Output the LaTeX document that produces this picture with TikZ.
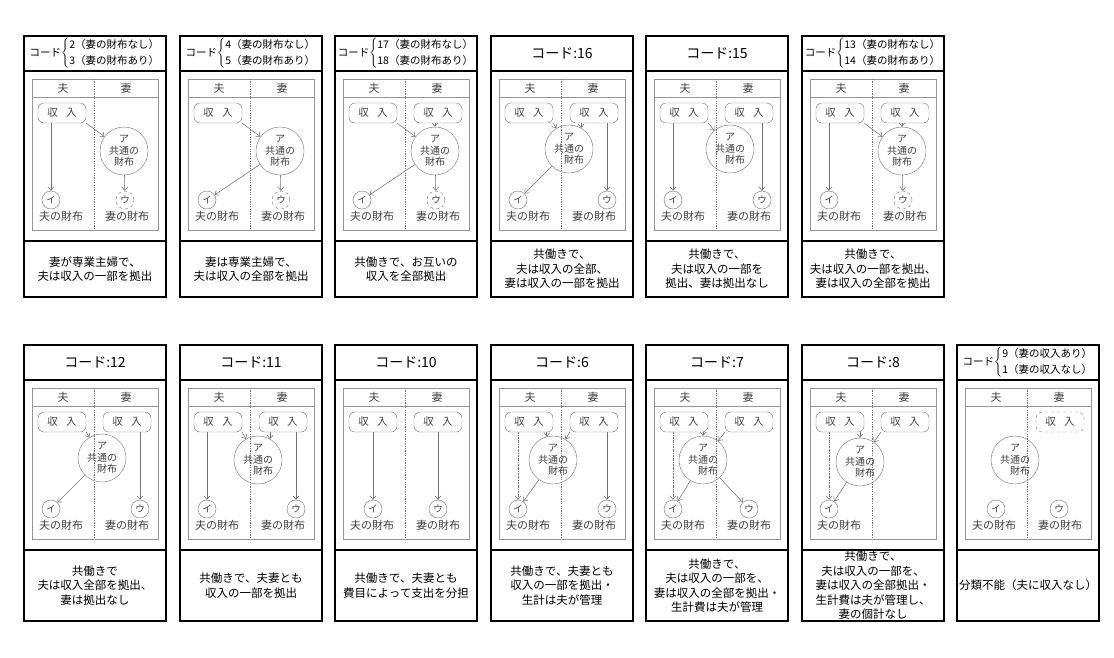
\documentclass[tikz,border=0pt]{standalone}
\usepackage{fontspec}
\setmainfont{Noto Sans CJK JP}
\definecolor{kkline}{RGB}{115,115,115}
\definecolor{kktext}{RGB}{65,65,65}
\definecolor{kkframe}{RGB}{150,150,150}
\usetikzlibrary{arrows.meta}

% one panel: name, left, top, height, code header, description, wife's wallet label
\newcommand{\kakeibox}[7]{%
  \draw[panel] (#2,#3) rectangle ++(142,#4);
  \draw[panel] (#2,#3+35) -- ++(142,0);
  \draw[panel] (#2,#3+205) -- ++(142,0);
  \node[code] (#1code) at (#2+71,#3+17.5) {#5};
  \node[desc] (#1desc) at ({#2+71},{#3+205+(#4-205)/2}) {#6};
  \draw[grid] (#2+8,#3+43) rectangle ++(126,151);
  \draw[grid] (#2+8,#3+61) -- ++(126,0);
  \draw[divider] (#2+70,#3+43) -- ++(0,151);
  \node[who] (#1hus) at (#2+39,#3+52) {夫};
  \node[who] (#1wif) at (#2+102,#3+52) {妻};
  \node[lbl] (#1il) at (#2+37,#3+180) {夫の財布};
  \node[lbl] (#1ul) at (#2+103,#3+180) {#7};
}
\newcommand{\twocodes}[2]{{\fontsize{10.5}{16}\selectfont コード$\left\{\begin{tabular}{@{}l@{}}#1\\#2\end{tabular}\right.$}}

\begin{document}
\begin{tikzpicture}[x=1pt,y=-1pt,
  panel/.style={line width=1.6pt},
  grid/.style={draw=kkframe,line width=0.6pt},
  divider/.style={draw=kkline,line width=0.6pt,dash pattern=on 1.2pt off 1.2pt},
  code/.style={font=\fontsize{14}{16}\selectfont},
  desc/.style={align=center,font=\fontsize{11.5}{14.5}\selectfont},
  who/.style={text=kktext,font=\fontsize{11}{13}\selectfont},
  lbl/.style={text=kktext,font=\fontsize{11}{13}\selectfont},
  income/.style={draw=kkline,rounded corners=6pt,minimum width=48pt,minimum height=20pt,inner sep=0pt,text=kktext,font=\fontsize{10.5}{12}\selectfont},
  pot/.style={circle,draw=kkline,minimum size=48pt,inner sep=0pt,align=center,text=kktext,font=\fontsize{10}{11.5}\selectfont},
  wallet/.style={circle,draw=kkline,minimum size=18pt,inner sep=0pt,text=kktext,font=\fontsize{9.5}{11}\selectfont},
  flow/.style={draw=kkline,line width=0.55pt,-{Straight Barb[length=3.5pt,width=6pt]}},
  dashflow/.style={flow,dash pattern=on 2pt off 1pt on 0.5pt off 1pt}]
  \useasboundingbox (0,0) rectangle (1114,657);

  % ---- upper row ----
  % codes 2/3
  \kakeibox{a}{24}{36}{261}{\twocodes{2（妻の財布なし）}{3（妻の財布あり）}}{妻が専業主婦で、\\夫は収入の一部を拠出}{妻の財布}
  \begin{scope}[shift={(24,79)}]
    \node[income] (aH) at (38,34) {収\hspace{0.8em}入};
    \node[pot] (aA) at (100,72) {ア\\共通の\\財布};
    \node[wallet] (aI) at (27,121) {イ};
    \node[wallet,dashed] (aU) at (101,121) {ウ};
    \draw[flow] (aH.south -| aI) -- (aI);
    \draw[flow] (aH.south east) -- (aA);
    \draw[flow] (aA) -- (aU);
  \end{scope}
  % codes 4/5
  \kakeibox{b}{180}{36}{261}{\twocodes{4（妻の財布なし）}{5（妻の財布あり）}}{妻は専業主婦で、\\夫は収入の全部を拠出}{妻の財布}
  \begin{scope}[shift={(180,79)}]
    \node[income] (bH) at (38,34) {収\hspace{0.8em}入};
    \node[pot] (bA) at (100,72) {ア\\共通の\\財布};
    \node[wallet] (bI) at (27,121) {イ};
    \node[wallet,dashed] (bU) at (101,121) {ウ};
    \draw[flow] (bH.south east) -- (bA);
    \draw[flow] (bA) -- (bI);
    \draw[flow] (bA) -- (bU);
  \end{scope}
  % codes 17/18
  \kakeibox{c}{335}{36}{261}{\twocodes{17（妻の財布なし）}{18（妻の財布あり）}}{共働きで、お互いの\\収入を全部拠出}{妻の財布}
  \begin{scope}[shift={(335,79)}]
    \node[income] (cH) at (38,34) {収\hspace{0.8em}入};
    \node[income] (cW) at (103,34) {収\hspace{0.8em}入};
    \node[pot] (cA) at (100,72) {ア\\共通の\\財布};
    \node[wallet] (cI) at (27,121) {イ};
    \node[wallet,dashed] (cU) at (101,121) {ウ};
    \draw[flow] (cH.south east) -- (cA);
    \draw[flow] (cW.south -| cA) -- (cA);
    \draw[flow] (cA) -- (cI);
    \draw[flow] (cA) -- (cU);
  \end{scope}
  % code 16
  \kakeibox{d}{491}{36}{261}{コード:16}{共働きで、\\夫は収入の全部、\\妻は収入の一部を拠出}{妻の財布}
  \begin{scope}[shift={(491,79)}]
    \node[income] (dH) at (38,34) {収\hspace{0.8em}入};
    \node[income] (dW) at (103,34) {収\hspace{0.8em}入};
    \node[pot] (dA) at (78,70) {ア\\共通の\\\makebox[3em][r]{財布}};
    \node[wallet] (dI) at (27,121) {イ};
    \node[wallet] (dU) at (116,121) {ウ};
    \draw[flow] (dH.south east) -- (dA);
    \draw[flow] (dW.south -| dA.60) -- (dA.60);
    \draw[flow] (dW.south -| dU) -- (dU);
    \draw[flow] (dA) -- (dI);
  \end{scope}
  % code 15
  \kakeibox{e}{646}{36}{261}{コード:15}{共働きで、\\夫は収入の一部を\\拠出、妻は拠出なし}{妻の財布}
  \begin{scope}[shift={(646,79)}]
    \node[income] (eH) at (38,34) {収\hspace{0.8em}入};
    \node[income] (eW) at (103,34) {収\hspace{0.8em}入};
    \node[pot] (eA) at (84,70) {ア\\共通の\\\makebox[3em][r]{財布}};
    \node[wallet] (eI) at (27,121) {イ};
    \node[wallet] (eU) at (116,121) {ウ};
    \draw[flow] (eH.south -| eI) -- (eI);
    \draw[flow] (eH.south east) -- (eA);
    \draw[flow] (eW.south -| eU) -- (eU);
  \end{scope}
  % codes 13/14
  \kakeibox{f}{802}{36}{261}{\twocodes{13（妻の財布なし）}{14（妻の財布あり）}}{共働きで、\\夫は収入の一部を拠出、\\妻は収入の全部を拠出}{妻の財布}
  \begin{scope}[shift={(802,79)}]
    \node[income] (fH) at (38,34) {収\hspace{0.8em}入};
    \node[income] (fW) at (103,34) {収\hspace{0.8em}入};
    \node[pot] (fA) at (100,72) {ア\\共通の\\財布};
    \node[wallet] (fI) at (27,121) {イ};
    \node[wallet,dashed] (fU) at (101,121) {ウ};
    \draw[flow] (fH.south -| fI) -- (fI);
    \draw[flow] (fH.south east) -- (fA);
    \draw[flow] (fW.south -| fA) -- (fA);
    \draw[flow] (fA) -- (fU);
  \end{scope}

  % ---- lower row ----
  % code 12
  \kakeibox{g}{24}{345}{276}{コード:12}{共働きで\\夫は収入全部を拠出、\\妻は拠出なし}{妻の財布}
  \begin{scope}[shift={(24,388)}]
    \node[income] (gH) at (38,34) {収\hspace{0.8em}入};
    \node[income] (gW) at (103,34) {収\hspace{0.8em}入};
    \node[pot] (gA) at (78,70) {ア\\共通の\\\makebox[3em][r]{財布}};
    \node[wallet] (gI) at (27,121) {イ};
    \node[wallet] (gU) at (116,121) {ウ};
    \draw[flow] (gH.south east) -- (gA);
    \draw[flow] (gA) -- (gI);
    \draw[flow] (gW.south -| gU) -- (gU);
  \end{scope}
  % code 11
  \kakeibox{h}{180}{345}{276}{コード:11}{共働きで、夫妻とも\\収入の一部を拠出}{妻の財布}
  \begin{scope}[shift={(180,388)}]
    \node[income] (hH) at (38,34) {収\hspace{0.8em}入};
    \node[income] (hW) at (103,34) {収\hspace{0.8em}入};
    \node[pot] (hA) at (78,72) {ア\\共通の\\\makebox[3em][r]{財布}};
    \node[wallet] (hI) at (27,121) {イ};
    \node[wallet] (hU) at (116,121) {ウ};
    \draw[flow] (hH.south -| hI) -- (hI);
    \draw[flow] (hH.south east) -- (hA);
    \draw[flow] (hW.south -| hA.60) -- (hA.60);
    \draw[flow] (hW.south -| hU) -- (hU);
  \end{scope}
  % code 10
  \kakeibox{i}{335}{345}{276}{コード:10}{共働きで、夫妻とも\\費目によって支出を分担}{妻の財布}
  \begin{scope}[shift={(335,388)}]
    \node[income] (iH) at (38,34) {収\hspace{0.8em}入};
    \node[income] (iW) at (103,34) {収\hspace{0.8em}入};
    \node[wallet] (iI) at (38,121) {イ};
    \node[wallet] (iU) at (103,121) {ウ};
    \draw[flow] (iH) -- (iI);
    \draw[flow] (iW) -- (iU);
  \end{scope}
  % code 6
  \kakeibox{j}{491}{345}{276}{コード:6}{共働きで、夫妻とも\\収入の一部を拠出・\\生計は夫が管理}{妻の財布}
  \begin{scope}[shift={(491,388)}]
    \node[income] (jH) at (38,34) {収\hspace{0.8em}入};
    \node[income] (jW) at (103,34) {収\hspace{0.8em}入};
    \node[pot] (jA) at (62,72) {ア\\共通の\\\makebox[3em][r]{財布}};
    \node[wallet] (jI) at (27,121) {イ};
    \node[wallet] (jU) at (116,121) {ウ};
    \draw[flow] (jH.south -| jA.105) -- (jA.105);
    \draw[dashflow] (jH.south -| jI) -- (jI);
    \draw[flow] (jW.south west) -- (jA);
    \draw[flow] (jW.south -| jU) -- (jU);
    \draw[flow] (jA) -- (jI);
  \end{scope}
  % code 7
  \kakeibox{k}{646}{345}{276}{コード:7}{共働きで、\\夫は収入の一部を、\\妻は収入の全部を拠出・\\生計費は夫が管理}{妻の財布}
  \begin{scope}[shift={(646,388)}]
    \node[income] (kH) at (38,34) {収\hspace{0.8em}入};
    \node[income] (kW) at (103,34) {収\hspace{0.8em}入};
    \node[pot] (kA) at (57,72) {ア\\共通の\\\makebox[3em][r]{財布}};
    \node[wallet] (kI) at (27,121) {イ};
    \node[wallet] (kU) at (103,121) {ウ};
    \draw[flow] (kH.south -| kA) -- (kA);
    \draw[dashflow] (kH.south -| kI) -- (kI);
    \draw[flow] (kW.south west) -- (kA);
    \draw[flow] (kA) -- (kI);
    \draw[flow] (kA) -- (kU);
  \end{scope}
  % code 8
  \kakeibox{l}{802}{345}{276}{コード:8}{\fontsize{11.5}{13}\selectfont 共働きで、\\夫は収入の一部を、\\妻は収入の全部拠出・\\生計費は夫が管理し、\\妻の個計なし}{}
  \begin{scope}[shift={(802,388)}]
    \node[income] (lH) at (38,34) {収\hspace{0.8em}入};
    \node[income] (lW) at (103,34) {収\hspace{0.8em}入};
    \node[pot] (lA) at (58,74) {ア\\共通の\\\makebox[3em][r]{財布}};
    \node[wallet] (lI) at (27,121) {イ};
    \draw[flow] (lH.south -| lA) -- (lA);
    \draw[dashflow] (lH.south -| lI) -- (lI);
    \draw[flow] (lW.south west) -- (lA);
    \draw[flow] (lA) -- (lI);
  \end{scope}
  % codes 9/1
  \kakeibox{m}{957}{345}{276}{\twocodes{ 9（妻の収入あり）}{ 1（妻の収入なし）}}{分類不能（夫に収入なし）}{妻の財布}
  \begin{scope}[shift={(957,388)}]
    \node[income,dashed] (mW) at (103,34) {収\hspace{0.8em}入};
    \node[pot] (mA) at (58,72) {ア\\共通の\\\makebox[3em][r]{財布}};
    \node[wallet] (mI) at (39,121) {イ};
    \node[wallet] (mU) at (102,121) {ウ};
  \end{scope}
\end{tikzpicture}
\end{document}
